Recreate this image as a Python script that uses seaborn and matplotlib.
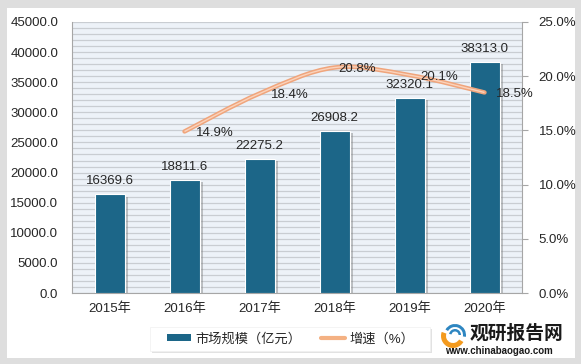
import numpy as np
import pandas as pd
import matplotlib
matplotlib.use("Agg")
import matplotlib.pyplot as plt
import seaborn as sns
from matplotlib.path import Path
from matplotlib.patches import PathPatch, Rectangle, Patch, Wedge
from matplotlib.lines import Line2D
from matplotlib.ticker import MultipleLocator, FormatStrFormatter
from matplotlib.transforms import IdentityTransform
import matplotlib.patheffects as pe

# data
years = ["2015年", "2016年", "2017年", "2018年", "2019年", "2020年"]
market_size = [16369.6, 18811.6, 22275.2, 26908.2, 32320.1, 38313.0]
growth_years = ["2016年", "2017年", "2018年", "2019年", "2020年"]
growth = [14.9, 18.4, 20.8, 20.1, 18.5]

bar_label = "市场规模（亿元）"
line_label = "增速（%）"

BAR_COLOR = "#1C6688"
LINE_COLOR = "#F4B183"
TEXT = "#262626"
W, H = 581, 364

sns.set_style("white")
plt.rcParams["font.family"] = ["Liberation Sans", "Noto Sans CJK SC"]
plt.rcParams["font.size"] = 9

fig = plt.figure(figsize=(W / 100, H / 100), dpi=100)
fig.patch.set_facecolor("#DEDEDE")


def px_rect(x0, y0, x1, y1, **kw):
    # rectangle given in image pixels (top-left origin)
    return Rectangle((x0 / W, 1 - y1 / H), (x1 - x0) / W, (y1 - y0) / H,
                     transform=fig.transFigure, **kw)


fig.add_artist(px_rect(7, 8, 575, 358, facecolor="white", edgecolor="none", zorder=-5))

ax = fig.add_axes([72 / W, 1 - 293 / H, 450 / W, 271 / H])
ax.set_facecolor("#EDF2F8")

df = pd.DataFrame({"year": years, "size": market_size})
sns.barplot(data=df, x="year", y="size", color=BAR_COLOR, width=0.4,
            saturation=1, edgecolor="white", linewidth=0.8, ax=ax, zorder=3)
for bar in ax.patches:
    bar.set_path_effects([pe.SimplePatchShadow(offset=(2.5, -1.5), shadow_rgbFace="#7F7F7F", alpha=0.45),
                          pe.Normal()])

ax.set_ylim(0, 45000)
ax.yaxis.set_major_locator(MultipleLocator(5000))
ax.yaxis.set_minor_locator(MultipleLocator(1000))
ax.yaxis.set_major_formatter(FormatStrFormatter("%.1f"))
ax.grid(axis="y", which="both", color="#C9CDD2", linewidth=0.9, zorder=0)
ax.set_axisbelow(True)
ax.set_xlabel("")
ax.set_ylabel("")
ax.tick_params(axis="y", which="both", length=0, pad=10, colors=TEXT, labelsize=9.5)
ax.tick_params(axis="x", length=0, pad=7, colors=TEXT, labelsize=9.5)
for s in ["top", "right"]:
    ax.spines[s].set_visible(False)
ax.spines["left"].set_color("#A6A6A6")
ax.spines["bottom"].set_color("#A6A6A6")

for i, v in enumerate(market_size):
    ax.annotate(f"{v:.1f}", (i, v), xytext=(0, 5), textcoords="offset points",
                ha="center", va="bottom", fontsize=9.5, color=TEXT, zorder=5)

# growth line on a second axis, drawn as a smooth curve through the points
ax2 = ax.twinx()
ax2.set_ylim(0, 25)
ax2.yaxis.set_major_locator(MultipleLocator(5))
ax2.yaxis.set_major_formatter(FormatStrFormatter("%.1f%%"))
ax2.tick_params(axis="y", length=4, direction="out", color="#A6A6A6", pad=8,
                labelcolor=TEXT, labelsize=9.5)
for s in ["top", "left", "bottom"]:
    ax2.spines[s].set_visible(False)
ax2.spines["right"].set_color("#A6A6A6")

xs = np.array([years.index(y) for y in growth_years], dtype=float)
ys = np.array(growth, dtype=float)
verts = [(xs[0], ys[0])]
codes = [Path.MOVETO]
for k in range(len(xs) - 1):
    p0 = np.array([xs[max(k - 1, 0)], ys[max(k - 1, 0)]])
    p1 = np.array([xs[k], ys[k]])
    p2 = np.array([xs[k + 1], ys[k + 1]])
    p3 = np.array([xs[min(k + 2, len(xs) - 1)], ys[min(k + 2, len(xs) - 1)]])
    c1 = p1 + (p2 - p0) / 6
    c2 = p2 - (p3 - p1) / 6
    verts += [tuple(c1), tuple(c2), tuple(p2)]
    codes += [Path.CURVE4] * 3
curve = Path(verts, codes)
ax2.add_patch(PathPatch(curve, facecolor="none", edgecolor="#F0A57C", linewidth=3.2, zorder=4,
                        capstyle="round"))
ax2.add_patch(PathPatch(curve, facecolor="none", edgecolor="#FAD3BC", linewidth=1.0, zorder=4))

label_dx = [8, 8, 3, 8, 8]
for x, y, dx in zip(xs, ys, label_dx):
    ax2.annotate(f"{y:.1f}%", (x, y), xytext=(dx, -1), textcoords="offset points",
                 ha="left", va="center", fontsize=9.5, color=TEXT, zorder=6)

# legend: white box with a soft shadow, entries without frame
fig.add_artist(px_rect(152, 329, 432, 353, facecolor="#E2E2E2", edgecolor="none", zorder=1))
fig.add_artist(px_rect(150, 327, 430, 351, facecolor="white", edgecolor="#F0F0F0",
                       linewidth=0.5, zorder=2))
handles = [Patch(facecolor=BAR_COLOR, edgecolor="none"),
           Line2D([0], [0], color=LINE_COLOR, linewidth=3)]
leg = fig.legend(handles, [bar_label, line_label], loc="center",
                 bbox_to_anchor=(291 / W, 1 - 339 / H), ncol=2, frameon=False,
                 fontsize=9.5, handlelength=1.8, handleheight=0.5, handletextpad=0.35,
                 columnspacing=1.5)
leg.set_zorder(3)
for t in leg.get_texts():
    t.set_color(TEXT)

# watermark
fig.text(470 / W, 1 - 334 / H, "观研报告网", fontsize=13.5, fontweight="bold",
         color="#1A1A1A", ha="left", va="center", zorder=4)
fig.text(499 / W, 1 - 351 / H, "www.chinabaogao.com", fontsize=7, fontweight="bold",
         color="#1A1A1A", ha="center", va="center", zorder=4)
cx, cy = 453, H - 336
fig.add_artist(Wedge((cx, cy), 12, 160, 330, width=5, transform=IdentityTransform(),
                     facecolor="#F39A1E", edgecolor="none", zorder=4))
fig.add_artist(Wedge((cx + 2, cy + 1), 11, 350, 150, width=3, transform=IdentityTransform(),
                     facecolor="#2E86C1", edgecolor="none", zorder=4))
fig.add_artist(Wedge((cx + 2, cy + 1), 6, 0, 170, width=2.5, transform=IdentityTransform(),
                     facecolor="#2E86C1", edgecolor="none", zorder=4))

fig.savefig("out.png", dpi=100, facecolor=fig.get_facecolor())
